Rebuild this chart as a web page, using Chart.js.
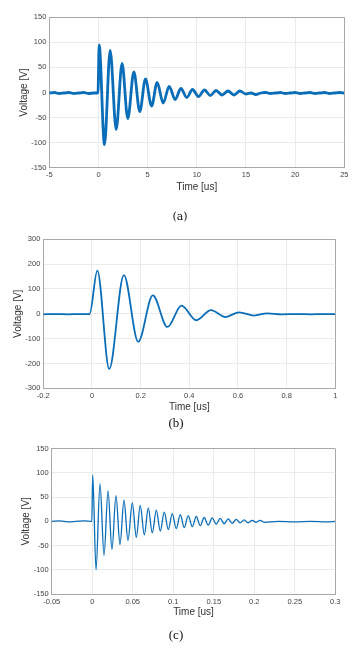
<!DOCTYPE html>
<html>
<head>
<meta charset="utf-8">
<script src="https://cdn.jsdelivr.net/npm/chart.js@4.4.1/dist/chart.umd.min.js"></script>
<style>
  html, body { margin: 0; padding: 0; background: #fff; }
  body { width: 358px; height: 656px; position: relative; overflow: hidden; }
  canvas { position: absolute; left: 0; }
  .cap { position: absolute; transform: translate(-50%, -50%); color: #111; white-space: nowrap; }
</style>
</head>
<body>
<canvas id="chartA" width="358" height="200" style="top:0px"></canvas>
<canvas id="chartB" width="358" height="200" style="top:220px"></canvas>
<canvas id="chartC" width="358" height="190" style="top:440px"></canvas>
<div class="cap" style="left:180px; top:216px; font: 11px 'DejaVu Serif', serif;">(a)</div>
<div class="cap" style="left:176px; top:423px; font: 13px 'Liberation Serif', serif;">(b)</div>
<div class="cap" style="left:176px; top:635px; font: 13px 'Liberation Serif', serif;">(c)</div>
<script>
// (a) 0 - 25 us record
const timeA = [-5, -4.5, -4, -3.5, -3, -2.5, -2, -1.5, -1, -0.5, -0.05,
  0.07, 0.61, 1.19, 1.80, 2.40, 2.98, 3.60, 4.20, 4.78, 5.40, 5.97, 6.58, 7.19, 7.80, 8.38, 8.98,
  9.56, 10.17, 10.78, 11.38, 11.96, 12.56, 13.18, 13.78, 14.38, 14.98,
  15.5, 16.0, 16.5, 17, 17.5, 18, 18.5, 19, 19.5, 20, 20.5, 21, 21.5, 22, 22.5, 23, 23.5, 24, 24.5, 25];
const voltageA = [-1, 0, -2, -1, 0, -2, -1, 0, -2, -1, -1,
  95, -104, 84, -74, 58, -52, 41, -38, 27, -27, 20, -21, 12, -14, 8, -10,
  6, -8, 5, -6, 4, -5, 3, -5, 3, -3,
  -1, -4, -1, 0, -2, -1, 0, -2, -1, 0, -2, -1, 0, -2, -1, 0, -2, -1, 0, -1];
const xTicksA = [-5, 0, 5, 10, 15, 20, 25];
const yTicksA = [-150, -100, -50, 0, 50, 100, 150];

// (b) 0 - 1 us record
const timeB = [-0.2, -0.15, -0.1, -0.05, -0.01,
  0.022, 0.071, 0.131, 0.190, 0.250, 0.310, 0.368, 0.429, 0.489, 0.548, 0.605, 0.666,
  0.72, 0.78, 0.85, 0.9, 0.95, 1];
const voltageB = [-2, -1, -2, -1, -1,
  174, -222, 156, -113, 74, -53, 33, -26, 15, -13, 6, -7,
  2, -2, -1, -2, -1, -1];
const xTicksB = [-0.2, 0, 0.2, 0.4, 0.6, 0.8, 1];
const yTicksB = [-300, -200, -100, 0, 100, 200, 300];

// (c) 0 - 0.3 us record
const timeC = [-0.05, -0.04, -0.03, -0.02, -0.01, -0.0005,
  0.0006, 0.0047, 0.0096, 0.0146, 0.0195, 0.0244, 0.0293, 0.0343, 0.0392, 0.0441,
  0.0495, 0.0544, 0.0593, 0.0643, 0.0692, 0.0741, 0.0791, 0.0840, 0.0889, 0.0939,
  0.0988, 0.1037, 0.1087, 0.1136, 0.1185, 0.1235, 0.1284, 0.1333, 0.1382, 0.1432,
  0.1481, 0.1530, 0.1580, 0.1629, 0.1678, 0.1728, 0.1777, 0.1826, 0.1876, 0.1925,
  0.1974, 0.2024, 0.2073, 0.2122,
  0.23, 0.25, 0.27, 0.29, 0.3];
const voltageC = [0, 1, -1, 0, 1, 0,
  96, -100, 78, -70, 63, -58, 53, -48, 44, -39,
  38, -33, 33, -28, 28, -24, 23, -20, 19, -17,
  16, -15, 14, -13, 12, -11, 10, -9, 8, -8,
  7, -6, 6, -5, 5, -4, 4, -3, 3, -3,
  2, -2, 2, -2,
  0, -1, 0, -1, 0];
const xTicksC = [-0.05, 0, 0.05, 0.1, 0.15, 0.2, 0.25, 0.3];
const yTicksC = [-150, -100, -50, 0, 50, 100, 150];

const LINE = '#0a6db8';
const GRID = '#ebebeb';
const BOX = '#a8a8a8';
const SANS = "'Liberation Sans', Arial, sans-serif";

function fmt(v) {
    return String(Number(v.toFixed(4)));
}

// lay = chart area inside the canvas, yTitleX / xTitleY = centre of the axis titles
function makeChart(id, times, volts, xTicks, yTicks, lay, lineWidth) {
    const canvas = document.getElementById(id);
    const H = canvas.height;
    const xMin = xTicks[0], xMax = xTicks[xTicks.length - 1];
    const yMin = yTicks[0], yMax = yTicks[yTicks.length - 1];
    const points = times.map((t, i) => ({ x: t, y: volts[i] }));

    const edgeColor = (lo, hi) => (c) => {
        const v = c.tick ? c.tick.value : null;
        return (v === lo || v === hi) ? BOX : GRID;
    };

    return new Chart(canvas, {
        type: 'scatter',
        data: {
            datasets: [{
                data: points,
                showLine: true,
                borderColor: LINE,
                borderWidth: lineWidth,
                pointRadius: 0,
                cubicInterpolationMode: 'monotone',
                fill: false
            }]
        },
        options: {
            responsive: false,
            animation: false,
            devicePixelRatio: 1,
            layout: { padding: { left: 0, top: lay.top, right: 358 - lay.right, bottom: 0 } },
            plugins: { legend: { display: false }, tooltip: { enabled: false } },
            scales: {
                x: {
                    type: 'linear',
                    min: xMin, max: xMax,
                    afterBuildTicks: s => { s.ticks = xTicks.map(v => ({ value: v })); },
                    afterFit: s => { s.height = H - lay.bottom; },
                    grid: { color: edgeColor(xMin, xMax), drawTicks: false, lineWidth: 1 },
                    border: { color: BOX, width: 1 },
                    ticks: {
                        padding: 3, maxRotation: 0, autoSkip: false, color: '#444',
                        font: { family: SANS, size: 7.5 },
                        callback: v => fmt(v)
                    },
                    title: {
                        display: true, text: 'Time [us]', color: '#333',
                        font: { family: SANS, size: 10, lineHeight: 1.2 },
                        padding: { top: 0, bottom: (H - lay.xTitleY) - 6 }
                    }
                },
                y: {
                    type: 'linear',
                    min: yMin, max: yMax,
                    afterBuildTicks: s => { s.ticks = yTicks.map(v => ({ value: v })); },
                    afterFit: s => { s.width = lay.left; },
                    grid: { color: edgeColor(yMin, yMax), drawTicks: false, lineWidth: 1 },
                    border: { color: BOX, width: 1 },
                    ticks: {
                        padding: 3, autoSkip: false, color: '#444',
                        font: { family: SANS, size: 7.5 },
                        callback: v => fmt(v)
                    },
                    title: {
                        display: true, text: 'Voltage [V]', color: '#333',
                        font: { family: SANS, size: 10, lineHeight: 1.2 },
                        padding: { top: lay.yTitleX - 6, bottom: 0 }
                    }
                }
            }
        }
    });
}

makeChart('chartA', timeA, voltageA, xTicksA, yTicksA,
    { left: 49.3, right: 344.3, top: 17.3, bottom: 167.7, yTitleX: 24, xTitleY: 187.3 }, 2.8);
makeChart('chartB', timeB, voltageB, xTicksB, yTicksB,
    { left: 43.3, right: 335.3, top: 19.3, bottom: 168.3, yTitleX: 18.3, xTitleY: 187.3 }, 1.8);
makeChart('chartC', timeC, voltageC, xTicksC, yTicksC,
    { left: 51.7, right: 335.3, top: 8.7, bottom: 154, yTitleX: 26.7, xTitleY: 172.7 }, 1.3);
</script>
</body>
</html>
